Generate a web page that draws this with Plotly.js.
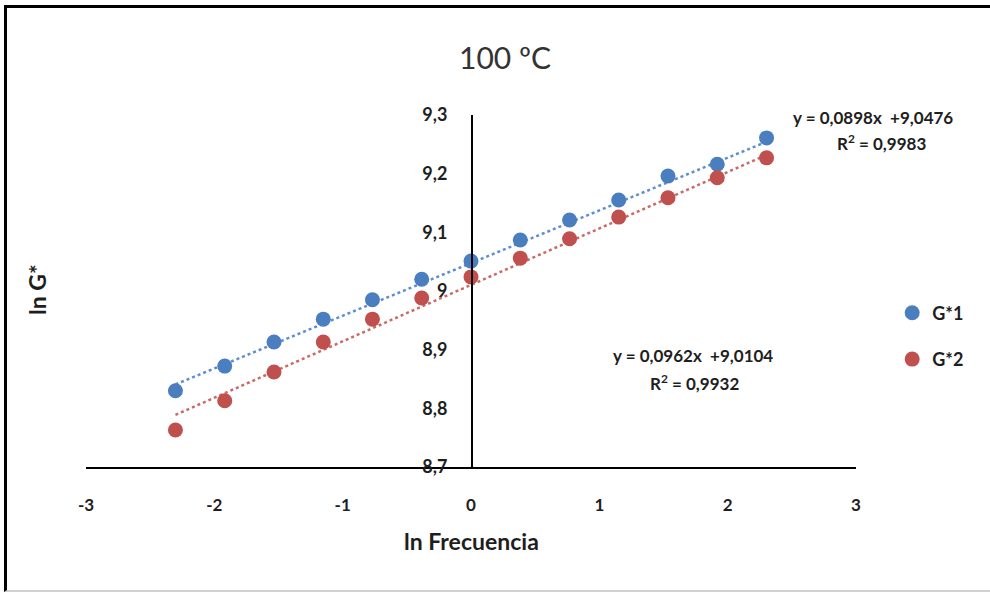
<!DOCTYPE html>
<html>
<head>
<meta charset="utf-8">
<script src="https://cdn.plot.ly/plotly-3.0.1.min.js"></script>
<style>
  html, body { margin: 0; padding: 0; background: #fff; overflow: hidden; }
  #frame { position: absolute; left: 4px; top: 5px; width: 1000px; height: 582px;
           border-left: 3px solid #000; border-top: 3px solid #000; border-bottom: 2px solid #d0d0d0;
           pointer-events: none; z-index: 5; }
  #chart { width: 990px; height: 592px; }
</style>
</head>
<body>
<div id="frame"></div>
<div id="chart"></div>
<script>
// ---- data ----
const lnFrecuencia = [-2.303, -1.919, -1.535, -1.151, -0.768, -0.384, 0, 0.384, 0.768, 1.151, 1.535, 1.919, 2.303];
const lnG1 = [8.830, 8.872, 8.913, 8.952, 8.985, 9.020, 9.051, 9.087, 9.121, 9.155, 9.196, 9.216, 9.261];
const lnG2 = [8.763, 8.813, 8.862, 8.913, 8.952, 8.988, 9.024, 9.056, 9.089, 9.126, 9.159, 9.193, 9.227];
const seriesNames = ["G*1", "G*2"];
const slope1 = 0.0898, intercept1 = 9.0476, r2_1 = 0.9983;
const slope2 = 0.0962, intercept2 = 9.0104, r2_2 = 0.9932;
const xTicks = [-3, -2, -1, 0, 1, 2, 3];
const yTicks = [8.7, 8.8, 8.9, 9.0, 9.1, 9.2, 9.3];

const blue = "#4a7ebf";
const red = "#c0504d";
const font = "Lato, 'Open Sans', sans-serif";
const txt = "#1e1e1e";

const xEnds = [lnFrecuencia[0], lnFrecuencia[lnFrecuencia.length - 1]];
const fmt = v => v.toFixed(4).replace(".", ",");

const traces = [
  { x: xEnds, y: xEnds.map(v => intercept1 + slope1 * v), mode: "lines", showlegend: false,
    line: { color: "#5b8fd0", width: 2.5, dash: "dot" }, hoverinfo: "skip" },
  { x: xEnds, y: xEnds.map(v => intercept2 + slope2 * v), mode: "lines", showlegend: false,
    line: { color: "#c96a66", width: 2.5, dash: "dot" }, hoverinfo: "skip" },
  { x: lnFrecuencia, y: lnG1, name: seriesNames[0], mode: "markers", legendgroup: "a",
    marker: { color: blue, size: 15 } },
  { x: lnFrecuencia, y: lnG2, name: seriesNames[1], mode: "markers", legendgroup: "b",
    marker: { color: red, size: 15 } }
];

const layout = {
  width: 990, height: 592,
  margin: { l: 86, r: 134, t: 115, b: 125 },
  paper_bgcolor: "#fff", plot_bgcolor: "#fff",
  separators: ",.",
  font: { family: font, color: txt, size: 17 },
  title: { text: "100 ºC", x: 505 / 990, xref: "container", xanchor: "center",
           y: 1 - 58 / 592, yref: "container", yanchor: "middle",
           font: { family: font, size: 30, color: "#333" } },
  xaxis: { range: [-3, 3], tickvals: xTicks, ticktext: xTicks.map(String), showgrid: false, zeroline: false,
           showline: true, linecolor: "#000", linewidth: 1.5, ticks: "", ticklabelstandoff: 22,
           tickfont: { family: font, size: 17, color: txt, weight: "bold" } },
  yaxis: { range: [8.7, 9.3], tickvals: yTicks, ticktext: yTicks.map(v => (Math.round(v * 10) / 10).toString().replace(".", ",")),
           showgrid: false, zeroline: false,
           anchor: "free", position: 0.5, showline: true, linecolor: "#000", linewidth: 1.5, ticks: "",
           ticklabelstandoff: 20, tickfont: { family: font, size: 18, color: txt, weight: "bold" } },
  legend: { x: 1.047, xanchor: "left", y: (467 - 336) / 352, yanchor: "middle", traceorder: "grouped", tracegroupgap: 20,
            font: { family: font, size: 18, color: txt, weight: "bold" }, itemwidth: 30 },
  annotations: [
    { text: "<b>ln Frecuencia</b>", xref: "paper", yref: "paper", x: 0.5, y: (467 - 541) / 352,
      xanchor: "center", yanchor: "middle", showarrow: false, font: { family: font, size: 23, color: txt } },
    { text: "<b>ln G*</b>", xref: "paper", yref: "paper", x: (37 - 86) / 770, y: (467 - 290) / 352,
      xanchor: "center", yanchor: "middle", textangle: -90, showarrow: false, font: { family: font, size: 23, color: txt } },
    { text: "<b>y = " + fmt(slope1) + "x  +" + fmt(intercept1) + "</b>", xref: "paper", yref: "paper",
      x: (873 - 86) / 770, y: (467 - 117) / 352, xanchor: "center", yanchor: "middle", showarrow: false,
      font: { family: font, size: 17, color: txt } },
    { text: "<b>R<sup>2</sup> = " + fmt(r2_1) + "</b>", xref: "paper", yref: "paper",
      x: (881 - 86) / 770, y: (467 - 142) / 352, xanchor: "center", yanchor: "middle", showarrow: false,
      font: { family: font, size: 17, color: txt } },
    { text: "<b>y = " + fmt(slope2) + "x  +" + fmt(intercept2) + "</b>", xref: "paper", yref: "paper",
      x: (693 - 86) / 770, y: (467 - 355) / 352, xanchor: "center", yanchor: "middle", showarrow: false,
      font: { family: font, size: 17, color: txt } },
    { text: "<b>R<sup>2</sup> = " + fmt(r2_2) + "</b>", xref: "paper", yref: "paper",
      x: (694 - 86) / 770, y: (467 - 382) / 352, xanchor: "center", yanchor: "middle", showarrow: false,
      font: { family: font, size: 17, color: txt } }
  ]
};

Plotly.newPlot("chart", traces, layout, { displayModeBar: false, staticPlot: true });
</script>
</body>
</html>
